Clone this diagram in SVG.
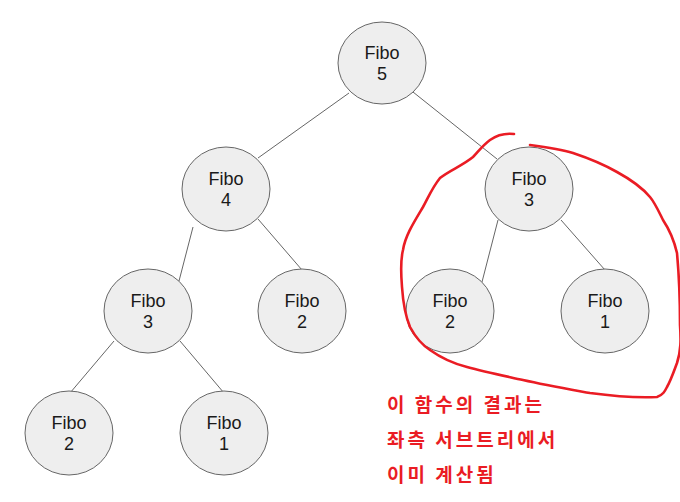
<svg xmlns="http://www.w3.org/2000/svg" width="680" height="502" viewBox="0 0 680 502">
<style>
.n ellipse{fill:#eeeeee;stroke:#666666;stroke-width:1}
.n text{font-family:"Liberation Sans",Arial,sans-serif;font-size:18px;fill:#1a1a1a;text-anchor:middle}
.e line{stroke:#666666;stroke-width:1}
.note{font-family:"Noto Sans CJK KR",sans-serif;font-size:19px;font-weight:bold;fill:#ea1c24;letter-spacing:3px}
</style>
<rect width="680" height="502" fill="#ffffff"/>
<g id="connectors" class="e">
<line x1="349" y1="93" x2="258" y2="158"/>
<line x1="413" y1="92" x2="497" y2="159"/>
<line x1="193" y1="227" x2="179" y2="281"/>
<line x1="258" y1="219" x2="302" y2="270"/>
<line x1="498" y1="220" x2="482" y2="282"/>
<line x1="561" y1="220" x2="605" y2="270"/>
<line x1="114" y1="341" x2="70" y2="393"/>
<line x1="180" y1="341" x2="224" y2="393"/>
</g>
<g id="n5" class="n"><ellipse cx="382" cy="63" rx="44" ry="41"/><text x="382" y="59">Fibo</text><text x="382" y="80">5</text></g>
<g id="n4" class="n"><ellipse cx="226" cy="189" rx="44" ry="42"/><text x="226" y="185">Fibo</text><text x="226" y="206">4</text></g>
<g id="n3r" class="n"><ellipse cx="529" cy="189" rx="44" ry="42"/><text x="529" y="185">Fibo</text><text x="529" y="206">3</text></g>
<g id="n3l" class="n"><ellipse cx="148" cy="311" rx="44" ry="42"/><text x="148" y="307">Fibo</text><text x="148" y="328">3</text></g>
<g id="n2a" class="n"><ellipse cx="302" cy="311" rx="44" ry="42"/><text x="302" y="307">Fibo</text><text x="302" y="328">2</text></g>
<g id="n2b" class="n"><ellipse cx="450" cy="311" rx="44" ry="42"/><text x="450" y="307">Fibo</text><text x="450" y="328">2</text></g>
<g id="n1a" class="n"><ellipse cx="605" cy="311" rx="44" ry="42"/><text x="605" y="307">Fibo</text><text x="605" y="328" fill="#1a1a5a">1</text></g>
<g id="n2c" class="n"><ellipse cx="69" cy="433" rx="44" ry="42"/><text x="69" y="429">Fibo</text><text x="69" y="450">2</text></g>
<g id="n1b" class="n"><ellipse cx="224" cy="433" rx="44" ry="42"/><text x="224" y="429">Fibo</text><text x="224" y="450">1</text></g>
<g id="annotation">
<path d="M514 134 C505 133 497 135 490 140 C482 146 478 152 473 157 C462 166 450 170 440 178 C432 188 428 198 423 207 C414 222 405 236 403 250 C400 262 401 275 402 287 C403 302 405 315 410 327 C416 338 422 345 430 350 C444 360 455 364 467 367 C485 372 505 376 523 380 C545 385 568 389 590 393 C612 396 635 398 657 397 C663 395 665 391 667 387 C671 380 674 371 677 363 C681 350 681 340 680 325 C680 300 679 275 677 253 C674 240 669 229 663 220 C658 210 655 203 650 197 C640 185 628 178 617 172 C603 164 588 158 573 153 C560 149 545 147 530 145" fill="none" stroke="#ea1c24" stroke-width="2.6" stroke-linecap="round" stroke-linejoin="round"/>
<text class="note" x="387" y="412">이 함수의 결과는</text>
<text class="note" x="387" y="447">좌측 서브트리에서</text>
<text class="note" x="387" y="482">이미 계산됨</text>
</g>
</svg>
